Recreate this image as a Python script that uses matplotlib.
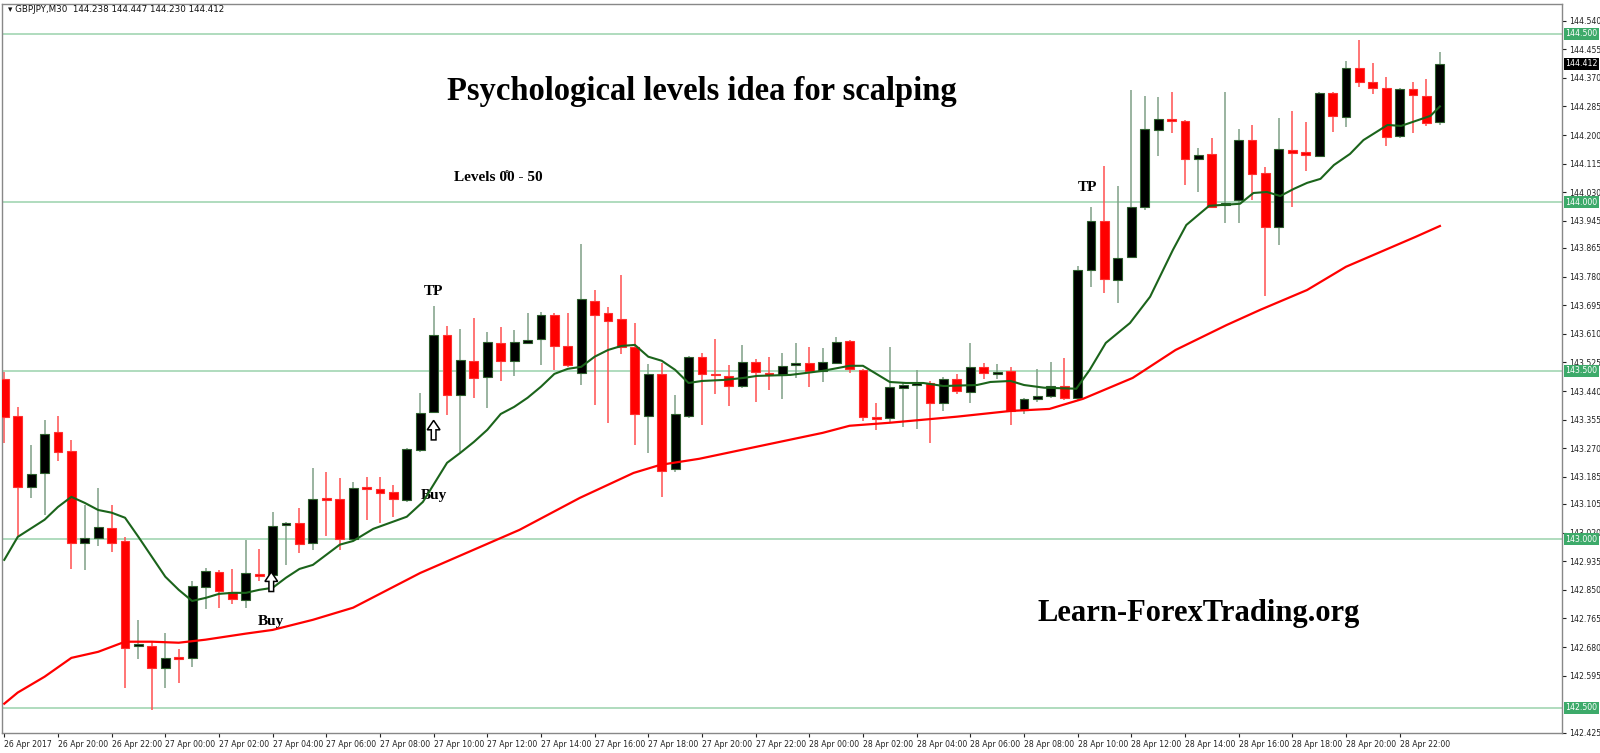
import matplotlib
matplotlib.use("Agg")
import matplotlib.pyplot as plt
from matplotlib.patches import FancyArrow

symbol_text = "GBPJPY,M30  144.238 144.447 144.230 144.412"
opens = [143.476,143.366,143.156,143.197,143.319,143.263,142.990,143.004,143.034,142.996,
         142.684,142.684,142.619,142.651,142.648,142.859,142.904,142.844,142.820,142.898,
         142.895,143.043,143.049,142.990,143.123,143.120,143.001,143.156,143.150,143.141,
         143.117,143.266,143.378,143.607,143.429,143.530,143.482,143.583,143.530,143.583,
         143.595,143.666,143.574,143.494,143.708,143.672,143.654,143.571,143.366,143.491,
         143.209,143.366,143.542,143.491,143.485,143.455,143.527,143.494,143.488,143.518,
         143.524,143.500,143.524,143.589,143.503,143.364,143.361,143.450,143.458,143.464,
         143.405,143.476,143.438,143.512,143.491,143.500,143.384,143.417,143.426,143.455,
         143.420,143.800,143.945,143.770,143.838,143.987,144.215,144.248,144.242,144.129,
         144.144,143.993,144.007,144.185,144.088,143.927,144.156,144.150,144.138,144.325,
         144.254,144.399,144.358,144.340,144.197,144.337,144.316,144.238]
highs = [143.497,143.393,143.280,143.355,143.366,143.295,143.102,143.153,143.102,143.007,
         142.761,142.696,142.723,142.675,142.877,142.915,142.909,142.912,142.999,142.972,
         143.082,143.052,143.093,143.212,143.200,143.182,143.171,143.185,143.185,143.162,
         143.272,143.435,143.693,143.634,143.625,143.657,143.616,143.631,143.622,143.672,
         143.675,143.672,143.672,143.877,143.740,143.690,143.785,143.642,143.521,143.524,
         143.429,143.545,143.553,143.595,143.518,143.577,143.536,143.542,143.553,143.583,
         143.571,143.568,143.601,143.592,143.506,143.405,143.571,143.464,143.503,143.470,
         143.482,143.491,143.583,143.524,143.521,143.512,143.420,143.506,143.527,143.539,
         143.812,143.987,144.108,144.049,144.334,144.316,144.313,144.328,144.245,144.162,
         144.191,144.328,144.218,144.230,144.105,144.251,144.272,144.239,144.328,144.328,
         144.420,144.482,144.414,144.372,144.340,144.358,144.366,144.447]
lows = [143.286,143.007,143.123,143.073,143.233,142.912,142.909,142.981,142.963,142.559,
        142.645,142.494,142.559,142.574,142.622,142.794,142.797,142.809,142.797,142.877,
        142.890,142.924,142.960,142.969,143.010,142.969,142.998,143.058,143.049,143.067,
        143.111,143.260,143.375,143.369,143.260,143.420,143.390,143.470,143.485,143.580,
        143.518,143.503,143.512,143.458,143.399,143.346,143.550,143.280,143.257,143.126,
        143.200,143.361,143.340,143.432,143.396,143.450,143.408,143.444,143.417,143.479,
        143.453,143.467,143.520,143.494,143.352,143.325,143.346,143.334,143.328,143.286,
        143.381,143.432,143.405,143.476,143.476,143.340,143.372,143.408,143.420,143.414,
        143.414,143.749,143.731,143.702,143.835,143.978,144.138,144.206,144.052,144.031,
        143.984,143.939,143.939,144.007,143.723,143.874,143.987,144.093,144.135,144.209,
        144.224,144.343,144.322,144.168,144.191,144.206,144.226,144.230]
closes = [143.363,143.156,143.194,143.313,143.260,142.990,143.004,143.037,142.990,142.678,
          142.690,142.619,142.648,142.645,142.862,142.907,142.847,142.823,142.901,142.892,
          143.040,143.049,142.987,143.120,143.117,143.001,143.153,143.150,143.138,143.120,
          143.269,143.375,143.607,143.429,143.533,143.479,143.586,143.530,143.586,143.592,
          143.666,143.574,143.518,143.714,143.666,143.648,143.571,143.372,143.491,143.203,
          143.372,143.542,143.491,143.488,143.455,143.527,143.497,143.488,143.515,143.524,
          143.500,143.527,143.586,143.506,143.364,143.358,143.453,143.458,143.464,143.405,
          143.476,143.441,143.512,143.494,143.497,143.381,143.417,143.426,143.455,143.420,
          143.800,143.945,143.773,143.835,143.987,144.218,144.248,144.242,144.129,144.141,
          143.987,143.999,144.185,144.085,143.927,144.159,144.147,144.141,144.325,144.257,
          144.399,144.358,144.340,144.194,144.337,144.319,144.236,144.412]

fast_ma_idx = [0,1,3,4,5,6,7,8,9,10,11,12,13,14,15,16,17,18,19,20,21,22,23,24,25,26,
               27.5,30,31.2,33,34,35,36,37,38,39,40,41,42,43,44,45,46,47,48,49,50,51,
               52,53.6,55.1,56.1,58.6,61,63,64,65,66,67.2,68.5,70,72.5,73.5,75,76,77.5,
               79.9,80.9,82.1,83.9,85.4,87.1,88.1,89.8,92.1,93.1,94.1,95.1,96.1,97.1,98.1,
               99.1,100.3,101.3,103.1,104.1,106.3,107]
fast_ma = [142.939,143.007,143.058,143.096,143.126,143.108,143.087,143.079,143.064,143.007,
           142.948,142.889,142.850,142.817,142.826,142.838,142.841,142.841,142.850,142.856,
           142.886,142.912,142.924,142.954,142.984,142.995,
           143.031,143.067,143.111,143.227,143.257,143.289,143.325,143.372,143.393,143.420,
           143.453,143.491,143.506,143.512,143.542,143.562,143.574,143.577,143.542,143.530,
           143.503,143.464,143.470,143.473,143.479,143.485,143.488,143.500,143.515,143.515,
           143.491,143.467,143.464,143.464,143.455,143.458,143.467,143.470,143.458,143.450,
           143.447,143.503,143.583,143.642,143.720,143.859,143.933,143.990,143.996,144.028,
           144.031,144.019,144.040,144.058,144.070,144.111,144.144,144.185,144.230,144.227,
           144.257,144.285]

slow_ma_idx = [0,1,3,5,7,9,11,13,15,18,20,23,26,31,38.4,42.9,46.9,48.9,51.8,56.1,61,63,
               66,71,75,77.9,80.4,84.1,87.3,91.1,93.6,97.1,100,105.2,107]
slow_ma = [142.512,142.545,142.592,142.648,142.666,142.696,142.696,142.693,142.702,142.720,
           142.731,142.761,142.797,142.900,143.028,143.123,143.197,143.221,143.239,143.275,
           143.316,143.337,143.346,143.364,143.381,143.387,143.417,143.479,143.562,143.636,
           143.681,143.740,143.809,143.898,143.930]

levels = [144.5, 144.0, 143.5, 143.0, 142.5]
level_labels = ["144.500", "144.000", "143.500", "143.000", "142.500"]
price_ticks = [144.540,144.455,144.370,144.285,144.200,144.115,144.030,143.945,143.865,
               143.780,143.695,143.610,143.525,143.440,143.355,143.270,143.185,143.105,
               143.020,142.935,142.850,142.765,142.680,142.595,142.425]
time_labels = ["26 Apr 2017", "26 Apr 20:00", "26 Apr 22:00"] + \
    ["27 Apr %02d:00" % h for h in range(0, 24, 2)] + \
    ["28 Apr %02d:00" % h for h in range(0, 24, 2)]
last_price = "144.412"

W, H = 1600, 753
fig = plt.figure(figsize=(16, 7.53), dpi=100)
ax = fig.add_axes([2/W, 1-733/H, (1562-2)/W, (733-4)/H])
ax.set_xlim(-0.17, 116.1)
ax.set_ylim(142.426, 144.589)

for lv in levels:
    ax.axhline(lv, color="#a9d9b9", lw=1.3, zorder=1)

n = len(opens)
for i in range(n):
    o, h, l, c = opens[i], highs[i], lows[i], closes[i]
    bull = c >= o
    wick = "#7f9f86" if bull else "#ff5050"
    ax.vlines(i, l, h, color=wick, lw=1.1, zorder=2)
    bottom = min(o, c)
    height = max(abs(c - o), 0.004)
    ax.bar(i, height, bottom=bottom, width=0.66,
           color="#000000" if bull else "#ff0000",
           edgecolor="#2e5e2e" if bull else "#ff3030", linewidth=0.8, zorder=3)

ax.plot(slow_ma_idx, slow_ma, color="#ff0000", lw=1.6, zorder=4)
ax.plot(fast_ma_idx, fast_ma, color="#1b641b", lw=1.5, zorder=4)

fs = 5.6
ax.yaxis.tick_right()
ax.set_yticks(price_ticks)
ax.set_yticklabels(["%.3f" % t for t in price_ticks], fontsize=fs, family="DejaVu Sans")
ax.tick_params(axis="y", length=3, pad=2, colors="#222222")
ax.set_xticks(list(range(0, 105, 4)))
ax.set_xticklabels(time_labels, fontsize=fs, ha="left", family="DejaVu Sans")
ax.tick_params(axis="x", length=3, pad=2, colors="#222222")
for s in ax.spines.values():
    s.set_color("#888888"); s.set_linewidth(1)

tr = ax.get_yaxis_transform()
for lv, lab in zip(levels, level_labels):
    ax.text(1.002, lv, lab, transform=tr, fontsize=fs, color="white", va="center", ha="left",
            bbox=dict(boxstyle="square,pad=0.2", fc="#3daa6a", ec="none"), zorder=6, clip_on=False)
ax.text(1.002, 144.412, last_price, transform=tr, fontsize=fs, color="white", va="center",
        ha="left", bbox=dict(boxstyle="square,pad=0.2", fc="black", ec="none"), zorder=6, clip_on=False)

fig.text(8/W, 1-9/H, "\u25be " + symbol_text, fontsize=6.3, va="center", ha="left", color="#111111")

serif = "Liberation Serif"
ax.text(52, 144.33, "Psychological levels idea for scalping", fontsize=23.5, fontweight="bold",
        family=serif, ha="center", va="center")
ax.text(33.5, 144.075, "Levels 0\u030a0 - 50", fontsize=11, fontweight="bold", family=serif,
        ha="left", va="center")
ax.text(89, 142.78, "Learn-ForexTrading.org", fontsize=22, fontweight="bold", family=serif,
        ha="center", va="center")
ax.text(32, 143.735, "TP", fontsize=11, fontweight="bold", family=serif, ha="center", va="center")
ax.text(80.7, 144.045, "TP", fontsize=11, fontweight="bold", family=serif, ha="center", va="center")
ax.text(32, 143.13, "Buy", fontsize=11, fontweight="bold", family=serif, ha="center", va="center")
ax.text(19.9, 142.755, "Buy", fontsize=11, fontweight="bold", family=serif, ha="center", va="center")
for (xi, yb) in [(32.0, 143.295), (19.9, 142.845)]:
    ax.add_patch(FancyArrow(xi, yb, 0, 0.058, width=0.35, head_width=0.95, head_length=0.028,
                            length_includes_head=True, fc="white", ec="black", lw=1.1, zorder=6))

fig.savefig("out.png", dpi=100)
